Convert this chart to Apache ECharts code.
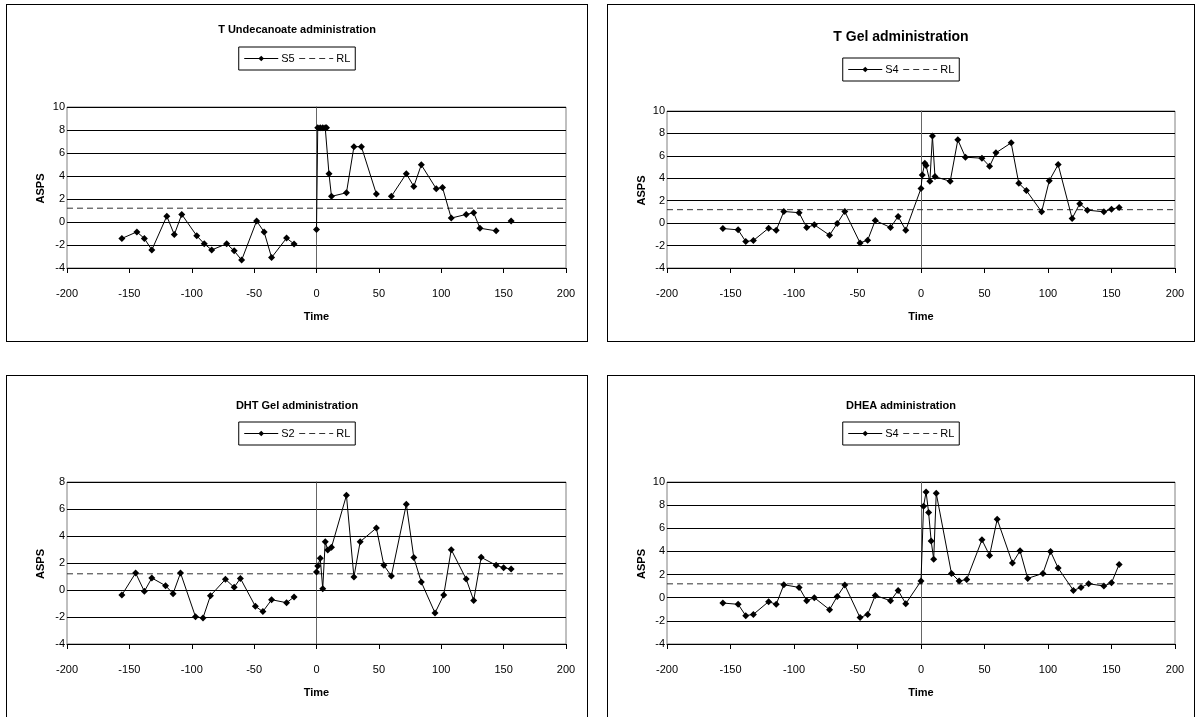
<!DOCTYPE html>
<html>
<head>
<meta charset="utf-8">
<script src="https://cdn.jsdelivr.net/npm/echarts@6/dist/echarts.min.js"></script>
<style>
  body { margin: 0; background: #fff; width: 1201px; height: 717px; overflow: hidden; position: relative; }
  .panel { position: absolute; box-sizing: border-box; border: 1px solid #000; background: #fff; }
</style>
</head>
<body>
<div id="p1" class="panel" style="left:6px;top:4px;width:582px;height:338px"></div>
<div id="p2" class="panel" style="left:607px;top:4px;width:588px;height:338px"></div>
<div id="p3" class="panel" style="left:6px;top:375px;width:582px;height:350px"></div>
<div id="p4" class="panel" style="left:607px;top:375px;width:588px;height:350px"></div>
<script>
// null = break in the line
const tuTime = [-156, -144, -138, -132, -120, -114, -108, -96, -90, -84, -72, -66, -60, -48, -42, -36, -24, -18, null,
  0, 1, 3, 5, 7, 8, 10, 12, 24, 30, 36, 48, null, 60, 72, 78, 84, 96, 101, 108, 120, 126, 131, 144, null, 156];
const tuS5 = [-1.43, -0.86, -1.43, -2.43, 0.51, -1.09, 0.66, -1.2, -1.89, -2.43, -1.89, -2.51, -3.31, 0.09, -0.86, -3.09, -1.4, -1.91, null,
  -0.66, 8.2, 8.2, 8.2, 8.2, 8.2, 4.2, 2.23, 2.54, 6.55, 6.55, 2.43, null, 2.23, 4.2, 3.09, 4.97, 2.89, 3.0, 0.34, 0.66, 0.8, -0.54, -0.77, null, 0.09];

const tgTime = [-156, -144, -138, -132, -120, -114, -108, -96, -90, -84, -72, -66, -60, -48, -42, -36, -24, -18, -12,
  0, 1, 3, 4, 7, 9, 11, 23, 29, 35, 48, 54, 59, 71, 77, 83, 95, 101, 108, 119, 125, 131, 144, 150, 156];
const tgS4 = [-0.48, -0.6, -1.64, -1.55, -0.45, -0.63, 1.04, 0.93, -0.39, -0.15, -1.07, -0.03, 1.04, -1.76, -1.52, 0.24, -0.39, 0.6, -0.63,
  3.1, 4.3, 5.34, 5.13, 3.73, 7.76, 4.15, 3.73, 7.43, 5.88, 5.79, 5.07, 6.27, 7.16, 3.55, 2.9, 1.01, 3.79, 5.22, 0.42, 1.73, 1.16, 1.01, 1.25, 1.4];

const dhtTime = [-156, -145, -138, -132, -121, -115, -109, -97, -91, -85, -73, -66, -61, -49, -43, -36, -24, -18, null,
  0, 1, 3, 5, 7, 9, 12, 24, 30, 35, 48, 54, 60, 72, 78, 84, 95, 102, 108, 120, 126, 132, 144, 150, 156];
const dhtS2 = [-0.37, 1.26, -0.1, 0.89, 0.32, -0.27, 1.26, -1.98, -2.07, -0.42, 0.79, 0.2, 0.86, -1.21, -1.6, -0.72, -0.94, -0.52, null,
  1.33, 1.78, 2.35, 0.1, 3.58, 2.96, 3.16, 7.01, 0.96, 3.58, 4.59, 1.83, 1.04, 6.35, 2.4, 0.59, -1.7, -0.37, 2.99, 0.81, -0.77, 2.42, 1.83, 1.65, 1.56];

const dheaTime = [-156, -144, -138, -132, -120, -114, -108, -96, -90, -84, -72, -66, -60, -48, -42, -36, -24, -18, -12,
  0, 2, 4, 6, 8, 10, 12, 24, 30, 36, 48, 54, 60, 72, 78, 84, 96, 102, 108, 120, 126, 132, 144, 150, 156];
const dheaS4 = [-0.46, -0.57, -1.55, -1.44, -0.34, -0.57, 1.12, 0.89, -0.26, 0, -1.03, 0.11, 1.09, -1.72, -1.44, 0.2, -0.26, 0.63, -0.52,
  1.44, 7.9, 9.14, 7.36, 4.91, 3.33, 9.02, 2.1, 1.44, 1.58, 5.0, 3.65, 6.78, 2.99, 4.05, 1.67, 2.1, 4.0, 2.56, 0.63, 0.89, 1.21, 1.01, 1.29, 2.87];

const rlLevel = 1.2;
const xRange = [-200, 200];

const FONT = "'Liberation Sans', Arial, sans-serif";

function makeChart(el, cfg) {
  const chart = echarts.init(document.getElementById(el), null, { renderer: "canvas" });
  const data = cfg.time.map((t, i) => (t === null ? ["-", "-"] : [t, cfg.vals[i]]));
  const g = cfg.grid;
  const option = {
    animation: false,
    title: {
      text: cfg.title,
      left: "center",
      top: cfg.titleTop,
      textStyle: { fontFamily: FONT, fontSize: cfg.titleSize, fontWeight: "bold", color: "#000" },
    },
    legend: {
      top: cfg.legendTop,
      left: "center",
      data: [
        { name: cfg.name },
        { name: "RL", itemStyle: { opacity: 0 } },
      ],
      borderColor: "#000",
      borderWidth: 1,
      borderRadius: 0,
      padding: [6, 5, 6, 5],
      itemWidth: 34,
      itemHeight: 7,
      itemGap: 4,
      lineStyle: { width: 1 },
      textStyle: { fontFamily: FONT, fontSize: 11, color: "#000", padding: [0, 0, 0, -2] },
    },
    graphic: [
      {
        type: "text",
        left: 28,
        top: g.top + g.height / 2 - 14,
        rotation: Math.PI / 2,
        style: { text: "ASPS", font: "bold 11px " + FONT, fill: "#000" },
      },
    ],
    grid: {
      left: g.left,
      top: g.top,
      width: g.width,
      height: g.height,
      show: true,
      borderColor: "#808080",
      borderWidth: 1,
    },
    xAxis: {
      type: "value",
      min: xRange[0],
      max: xRange[1],
      interval: 50,
      name: "Time",
      nameLocation: "middle",
      nameGap: 43,
      nameTextStyle: { fontFamily: FONT, fontSize: 11, fontWeight: "bold", color: "#000" },
      axisLine: { onZero: false, lineStyle: { color: "#000", width: 1 } },
      axisTick: { show: true, length: 5, lineStyle: { color: "#000" } },
      axisLabel: { fontFamily: FONT, fontSize: 11, color: "#000", margin: 20 },
      splitLine: { show: false },
    },
    yAxis: {
      type: "value",
      min: -4,
      max: cfg.yMax,
      interval: 2,
      axisLine: { show: true, onZero: true, lineStyle: { color: "#666", width: 1 } },
      axisTick: { show: true, length: 4, lineStyle: { color: "#000" } },
      axisLabel: { fontFamily: FONT, fontSize: 11, color: "#000", margin: 2 },
      splitLine: { show: true, lineStyle: { color: "#000", width: 1 } },
    },
    series: [
      {
        name: cfg.name,
        type: "line",
        data: data,
        connectNulls: false,
        symbol: "diamond",
        symbolSize: 7,
        itemStyle: { color: "#000" },
        lineStyle: { color: "#000", width: 1 },
        z: 3,
      },
      {
        name: "RL",
        type: "line",
        data: xRange.map((x) => [x, rlLevel]),
        symbol: "none",
        itemStyle: { color: "#000" },
        lineStyle: { color: "#333", width: 1, type: [6, 4] },
        z: 2,
      },
    ],
  };
  chart.setOption(option);
  return chart;
}

makeChart("p1", {
  title: "T Undecanoate administration", titleSize: 11, titleTop: 14, legendTop: 42,
  name: "S5", time: tuTime, vals: tuS5, yMax: 10,
  grid: { left: 60, top: 102, width: 499, height: 161 },
});
makeChart("p2", {
  title: "T Gel administration", titleSize: 14, titleTop: 20, legendTop: 53,
  name: "S4", time: tgTime, vals: tgS4, yMax: 10,
  grid: { left: 59, top: 106, width: 508, height: 157 },
});
makeChart("p3", {
  title: "DHT Gel administration", titleSize: 11, titleTop: 19, legendTop: 46,
  name: "S2", time: dhtTime, vals: dhtS2, yMax: 8,
  grid: { left: 60, top: 106, width: 499, height: 162 },
});
makeChart("p4", {
  title: "DHEA administration", titleSize: 11, titleTop: 19, legendTop: 46,
  name: "S4", time: dheaTime, vals: dheaS4, yMax: 10,
  grid: { left: 59, top: 106, width: 508, height: 162 },
});
</script>
</body>
</html>
